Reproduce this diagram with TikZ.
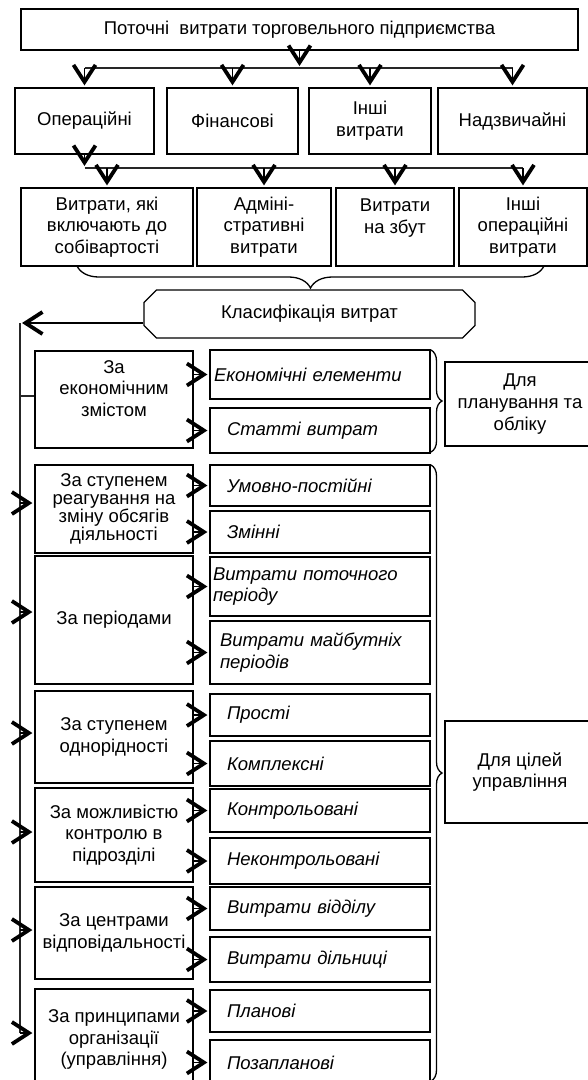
\documentclass[tikz,border=0pt]{standalone}
\usepackage{fontspec}
\setmainfont{Liberation Sans}
\usetikzlibrary{arrows.meta,shapes.misc,decorations.pathreplacing}
\newcommand{\boxfont}{\fontsize{18.5}{21.6}\selectfont}

\begin{document}
\begin{tikzpicture}[x=1pt, y=-1pt, line width=1.2pt,
    box/.style={draw, align=center, font=\boxfont, inner sep=2pt},
    ibox/.style={draw, align=left, font=\boxfont\itshape, minimum width=220pt,
        text width=186pt, inner xsep=17pt, inner ysep=2pt},
    arr/.style={-{Straight Barb[length=17pt, width=22pt, line width=3.8pt 0]}, shorten >=2pt},
    bus/.style={line width=1.4pt, black!85},
    brc/.style={decorate, line width=1.3pt}]

    \clip (0,0) rectangle (588,1080);

    % Top level
    \node[box, minimum width=557pt, minimum height=41pt] (total) at (299.5,29.5)
        {Поточні~ витрати торговельного підприємства};

    % Groups of expenses
    \node[box, minimum width=139pt, minimum height=66pt] (oper)  at (84.5,121)  {Операційні};
    \node[box, minimum width=131pt, minimum height=66pt] (fin)   at (232.5,121) {Фінансові};
    \node[box, minimum width=122pt, minimum height=66pt] (other) at (370,121)   {Інші\\витрати};
    \node[box, minimum width=149pt, minimum height=66pt] (extra) at (512.5,121) {Надзвичайні};

    \coordinate (bus1) at (0,68);
    \draw[arr] (total.south) -- (total.south |- bus1);
    \draw[bus] (oper.north |- bus1) -- (extra.north |- bus1);
    \foreach \n in {oper, fin, other, extra}
        \draw[arr] (\n.north |- bus1) -- (\n.north);

    % Operating expenses
    \node[box, minimum width=172pt, minimum height=78pt] (cost)    at (107,227) {Витрати, які\\включають до\\собівартості};
    \node[box, minimum width=134pt, minimum height=78pt] (admin)   at (264,227) {Адміні-\\стративні\\витрати};
    \node[box, minimum width=118pt, minimum height=78pt] (sales)   at (395,227) {Витрати\\на збут\\\phantom{в}};
    \node[box, minimum width=128pt, minimum height=78pt] (otherop) at (523,227) {Інші\\операційні\\витрати};

    \coordinate (bus2) at (0,168);
    \draw[arr] (oper.south) -- (oper.south |- bus2);
    \draw[bus] (oper.south |- bus2) -- (otherop.north |- bus2);
    \foreach \n in {cost, admin, sales, otherop}
        \draw[arr] (\n.north |- bus2) -- (\n.north);

    \draw[brc, decoration={brace, mirror, amplitude=22pt, aspect=0.5}] (77,266) -- (544,266);

    % Classification
    \node[draw, chamfered rectangle, chamfered rectangle xsep=9pt,
        minimum width=331pt, minimum height=48pt, font=\boxfont] (class) at (309.5,314)
        {Класифікація витрат};

    \coordinate (vt) at (20,323);
    \coordinate (vb) at (20,1033);
    \draw[arr, line width=1.8pt] ([yshift=-9pt]class.west) -- (vt);
    \draw[bus] (vt) -- (vb);

    % Classification features
    \node[box, minimum width=158pt, minimum height=97pt]  (byecon) at (114,399.5) {За\\економічним\\змістом\\[-6pt]\strut};
    \node[box, minimum width=158pt, minimum height=88pt, font=\fontsize{18.5}{18}\selectfont] (bybeh) at (114,509)
        {За ступенем\\реагування на\\зміну обсягів\\діяльності};
    \node[box, minimum width=158pt, minimum height=128pt] (byper)  at (114,620)    {За періодами};
    \node[box, minimum width=158pt, minimum height=92pt]  (byhom)  at (114,737)    {За ступенем\\однорідності};
    \node[box, minimum width=158pt, minimum height=94pt]  (byctrl) at (114,835)    {За можливістю\\контролю в\\підрозділі};
    \node[box, minimum width=158pt, minimum height=92pt]  (bycent) at (114,933)    {За центрами\\відповідальності};
    \node[box, minimum width=158pt, minimum height=101pt] (byorg)  at (114,1039.5) {За принципами\\організації\\(управління)};

    \coordinate (vbyecon) at (20,396);
    \draw[bus] (vbyecon) -- (vbyecon -| byecon.west);
    \foreach \n/\y in {bybeh/503, byper/612, byhom/733, byctrl/832, bycent/930, byorg/1033} {
        \coordinate (v\n) at (20,\y);
        \draw[arr] (v\n) -- (v\n -| \n.west);
    }

    % Kinds of expenses
    \node[ibox, minimum height=49pt, inner xsep=4pt, text width=212pt] (elem) at (320,374.5) {Економічні елементи};
    \node[ibox, minimum height=45pt] (items)   at (320,430.5) {Статті витрат};
    \node[ibox, minimum height=41pt] (fixed)   at (320,485.5) {Умовно-постійні};
    \node[ibox, minimum height=42pt] (var)     at (320,532)   {Змінні};
    \node[ibox, minimum height=59pt, inner xsep=3pt, text width=214pt] (curr) at (320,586.5) {Витрати поточного\\періоду};
    \node[ibox, minimum height=63pt, inner xsep=10pt, text width=200pt] (fut) at (320,652.5) {Витрати майбутніх\\періодів};
    \node[ibox, minimum height=42pt] (simple)  at (320,715)   {Прості};
    \node[ibox, minimum height=45pt] (complex) at (320,763.5) {Комплексні};
    \node[ibox, minimum height=43pt] (ctrl)    at (320,810.5) {Контрольовані};
    \node[ibox, minimum height=46pt] (unctrl)  at (320,861)   {Неконтрольовані};
    \node[ibox, minimum height=43pt] (dept)    at (320,908.5) {Витрати відділу};
    \node[ibox, minimum height=45pt] (sect)    at (320,959.5) {Витрати дільниці};
    \node[ibox, minimum height=42pt] (planned) at (320,1011)  {Планові};
    \node[ibox, minimum height=45pt] (unplanned) at (320,1062.5) {Позапланові};

    \foreach \l/\r in {byecon/elem, byecon/items, bybeh/fixed, bybeh/var, byper/curr, byper/fut,
            byhom/simple, byhom/complex, byctrl/ctrl, byctrl/unctrl, bycent/dept, bycent/sect,
            byorg/planned, byorg/unplanned}
        \draw[arr] (\r.west -| \l.east) -- (\r.west);

    % Purposes
    \draw[brc, decoration={brace, amplitude=11pt}] (431,350) -- (431,452);
    \draw[brc, decoration={brace, amplitude=11pt}] (431,465) -- (431,1081);

    \node[box, minimum width=150pt, minimum height=84pt]  (forplan) at (520,404) {Для\\планування та\\обліку};
    \node[box, minimum width=150pt, minimum height=102pt] (formgmt) at (520,772) {Для цілей\\управління};
\end{tikzpicture}
\end{document}
